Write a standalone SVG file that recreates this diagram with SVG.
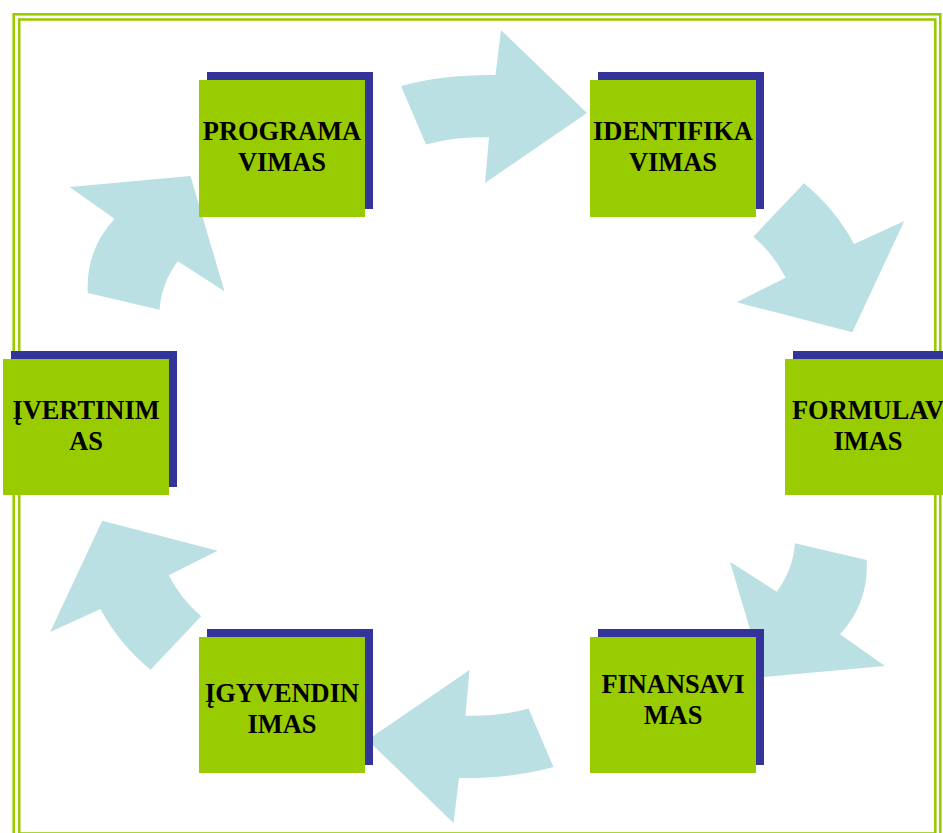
<svg xmlns="http://www.w3.org/2000/svg" width="943" height="833" viewBox="0 0 943 833">
  <style>
    .frame { fill: none; stroke: #99CC00; stroke-width: 2.6; }
    .shadow { fill: #333399; }
    .box { fill: #99CC00; }
    .label { font-family: "Liberation Serif", "Times New Roman", serif; font-weight: bold; font-size: 26.4px; fill: #000000; text-anchor: middle; }
    .arrow { fill: #BBE0E3; }
  </style>

  <rect width="943" height="833" fill="#FFFFFF"/>

  <!-- double page frame -->
  <g id="frame">
    <rect class="frame" x="13.7" y="14.3" width="926.6" height="830"/>
    <rect class="frame" x="19.2" y="19.5" width="916.1" height="814"/>
  </g>

  <!-- curved block arrows running clockwise round the cycle -->
  <g id="connectors">
    <path class="arrow" d="M401,86 Q442,74.5 495.5,75 L501,30 L587,113 L485,183 L489,137.3 Q456,136 426,144.5 Z"/>
    <path class="arrow" d="M804,183.3 Q835,208.6 854,244 L904.3,221 L852.3,332.3 L736.7,302.3 L785.7,277.7 Q773.7,254 753.3,236.7 Z"/>
    <path class="arrow" d="M866.7,560 L795,543.3 Q793,570 776.7,591.7 L730,561.7 L764,677 L885,666 L840,634.3 Q869,602.7 866.7,560 Z"/>
    <path class="arrow" transform="rotate(180 477.25 426.5)" d="M401,86 Q442,74.5 495.5,75 L501,30 L587,113 L485,183 L489,137.3 Q456,136 426,144.5 Z"/>
    <path class="arrow" transform="rotate(180 477.25 426.5)" d="M804,183.3 Q835,208.6 854,244 L904.3,221 L852.3,332.3 L736.7,302.3 L785.7,277.7 Q773.7,254 753.3,236.7 Z"/>
    <path class="arrow" transform="rotate(180 477.25 426.5)" d="M866.7,560 L795,543.3 Q793,570 776.7,591.7 L730,561.7 L764,677 L885,666 L840,634.3 Q869,602.7 866.7,560 Z"/>
  </g>

  <g id="programavimas">
    <rect class="shadow" x="207" y="72" width="166" height="137"/>
    <rect class="box" x="199" y="80" width="166" height="137"/>
    <text class="label" x="282" y="139.5">PROGRAMA</text>
    <text class="label" x="282" y="171">VIMAS</text>
  </g>

  <g id="identifikavimas">
    <rect class="shadow" x="598" y="72" width="166" height="137"/>
    <rect class="box" x="590" y="80" width="166" height="137"/>
    <text class="label" x="673" y="139.5">IDENTIFIKA</text>
    <text class="label" x="673" y="171">VIMAS</text>
  </g>

  <g id="formulavimas">
    <rect class="shadow" x="793" y="351" width="166" height="136"/>
    <rect class="box" x="785" y="359" width="166" height="136"/>
    <text class="label" x="868" y="419">FORMULAV</text>
    <text class="label" x="868" y="450">IMAS</text>
  </g>

  <g id="finansavimas">
    <rect class="shadow" x="598" y="629" width="166" height="136"/>
    <rect class="box" x="590" y="637" width="166" height="136"/>
    <text class="label" x="673" y="692.7">FINANSAVI</text>
    <text class="label" x="673" y="723.5">MAS</text>
  </g>

  <g id="igyvendinimas">
    <rect class="shadow" x="207" y="629" width="166" height="136"/>
    <rect class="box" x="199" y="637" width="166" height="136"/>
    <text class="label" x="282" y="701.7">ĮGYVENDIN</text>
    <text class="label" x="282" y="732.5">IMAS</text>
  </g>

  <g id="ivertinimas">
    <rect class="shadow" x="11" y="351" width="166" height="136"/>
    <rect class="box" x="3" y="359" width="166" height="136"/>
    <text class="label" x="86" y="419">ĮVERTINIM</text>
    <text class="label" x="86" y="450">AS</text>
  </g>
</svg>
